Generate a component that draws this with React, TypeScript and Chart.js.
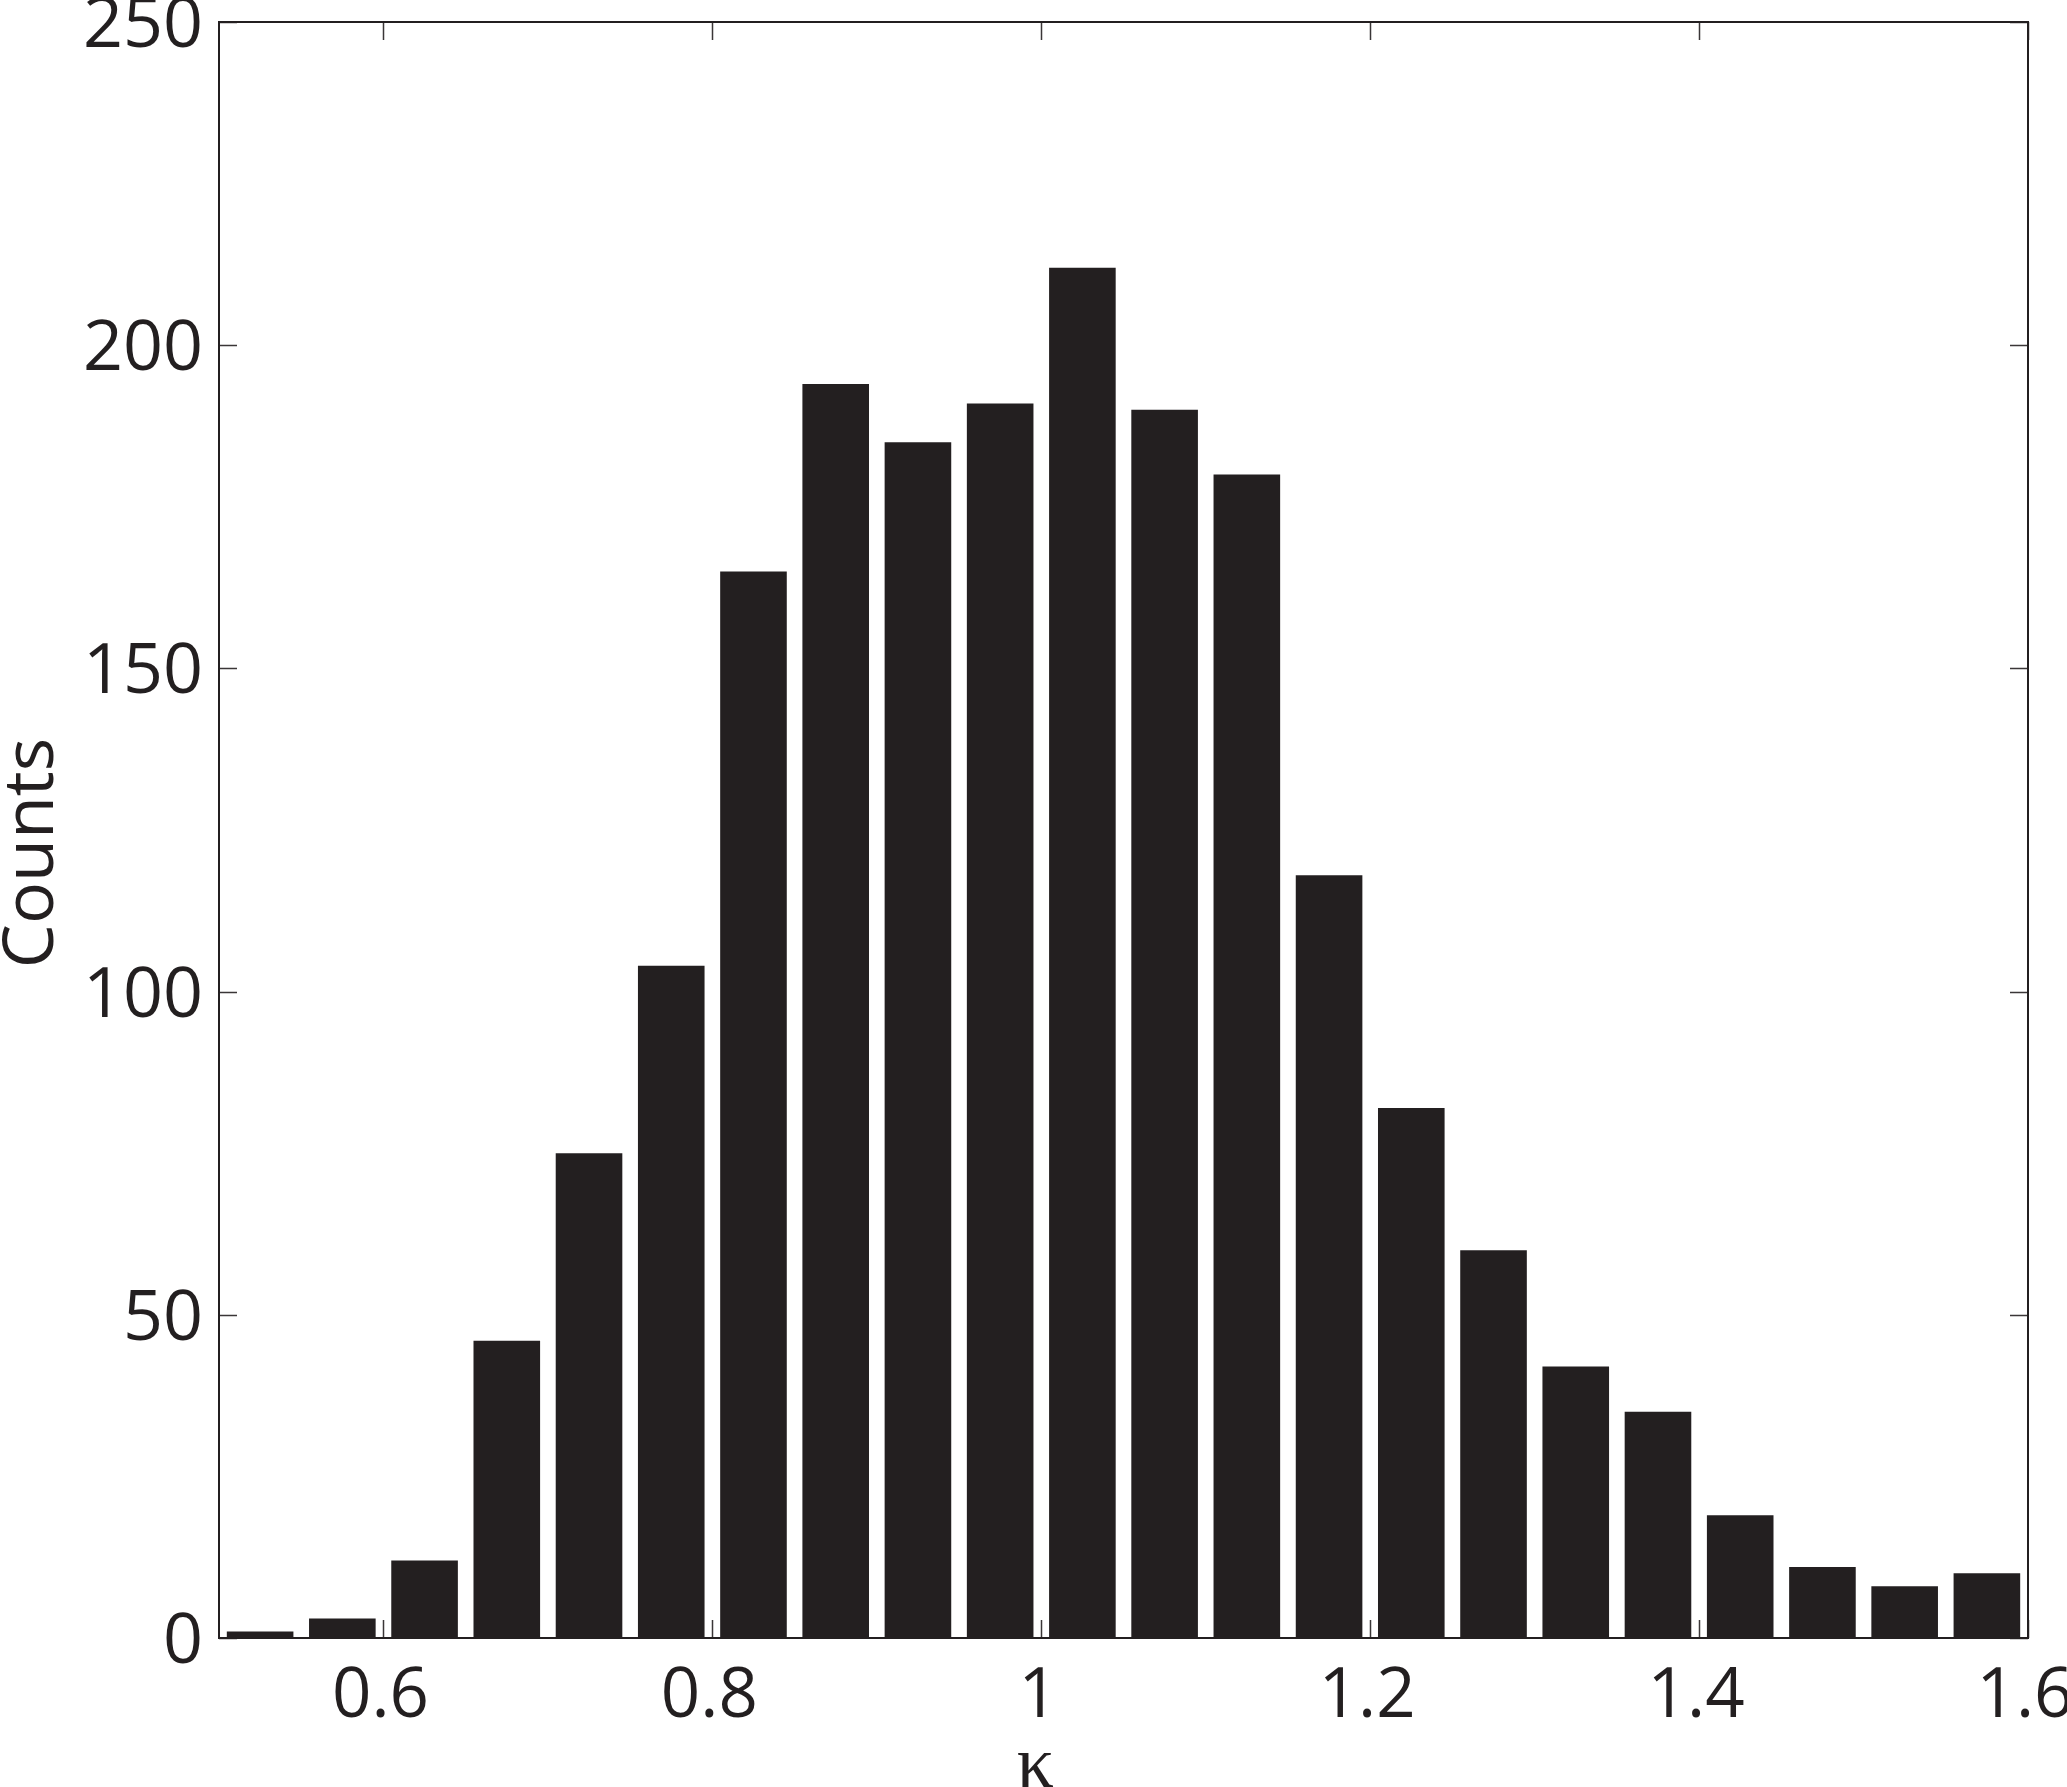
import React, { useEffect, useRef } from "react";
import { Chart, registerables } from "chart.js";

Chart.register(...registerables);

// ---- data ----
const binCenters = [
  0.525, 0.575, 0.625, 0.675, 0.725, 0.775, 0.825, 0.875, 0.925, 0.975, 1.025,
  1.075, 1.125, 1.175, 1.225, 1.275, 1.325, 1.375, 1.425, 1.475, 1.525, 1.575,
];
const counts = [
  1, 3, 12, 46, 75, 104, 165, 194, 185, 191, 212,
  190, 180, 118, 82, 60, 42, 35, 19, 11, 8, 10,
];
const xTicks = [0.6, 0.8, 1.0, 1.2, 1.4, 1.6];
const yTicks = [0, 50, 100, 150, 200, 250];
const xLabel = "κ";
const yLabel = "Counts";

const INK = "#231f20";
const FONT = "Open Sans";

const framePlugin = {
  id: "frame",
  afterDraw(chart: any) {
    const { ctx, chartArea: a, scales } = chart;
    const x = scales.x;
    const y = scales.y;
    const tl = 18;
    ctx.save();
    ctx.strokeStyle = "#3a3637";
    ctx.lineWidth = 1.5;
    ctx.beginPath();
    xTicks.forEach((v) => {
      const px = Math.round(x.getPixelForValue(v)) + 0.5;
      ctx.moveTo(px, a.bottom);
      ctx.lineTo(px, a.bottom - tl);
      ctx.moveTo(px, a.top);
      ctx.lineTo(px, a.top + tl);
    });
    yTicks.forEach((v) => {
      const py = Math.round(y.getPixelForValue(v)) + 0.5;
      ctx.moveTo(a.left, py);
      ctx.lineTo(a.left + tl, py);
      ctx.moveTo(a.right, py);
      ctx.lineTo(a.right - tl, py);
    });
    ctx.stroke();
    ctx.strokeStyle = INK;
    ctx.lineWidth = 2;
    ctx.strokeRect(a.left, a.top, a.right - a.left, a.bottom - a.top);

    // axis titles
    ctx.fillStyle = INK;
    ctx.font = `70px "${FONT}"`;
    ctx.textAlign = "center";
    ctx.textBaseline = "alphabetic";
    ctx.save();
    ctx.translate(a.left - 166, (a.top + a.bottom) / 2 + 23);
    ctx.rotate(-Math.PI / 2);
    ctx.fillText(yLabel, 0, 0);
    ctx.restore();

    ctx.font = `74px "Liberation Serif"`;
    ctx.fillText(xLabel, x.getPixelForValue(1.0) - 6, a.bottom + 149);
    ctx.restore();
  },
};

export default function App() {
  const ref = useRef<HTMLCanvasElement | null>(null);

  useEffect(() => {
    const canvas = ref.current;
    if (!canvas) return;
    const chart = new Chart(canvas, {
      type: "bar",
      data: {
        datasets: [
          {
            data: binCenters.map((c, i) => ({ x: c, y: counts[i] })),
            backgroundColor: INK,
            borderWidth: 0,
            barPercentage: 0.81,
            categoryPercentage: 1,
          } as any,
        ],
      },
      options: {
        responsive: false,
        animation: false,
        devicePixelRatio: 1,
        layout: { padding: { top: 22, right: 39, left: 0, bottom: 0 } },
        plugins: { legend: { display: false }, tooltip: { enabled: false } },
        scales: {
          x: {
            type: "linear",
            min: 0.5,
            max: 1.6,
            offset: false,
            grid: { display: false, drawTicks: false },
            border: { display: false },
            afterBuildTicks: (s: any) => {
              s.ticks = xTicks.map((v) => ({ value: v }));
            },
            ticks: {
              autoSkip: false,
              maxRotation: 0,
              minRotation: 0,
              padding: 18,
              labelOffset: -3,
              font: { family: FONT, size: 69 },
              color: INK,
              callback: (v: any) => String(parseFloat(Number(v).toFixed(1))),
            },
            afterFit: (s: any) => {
              s.height = 149;
              s.paddingLeft = 0;
              s.paddingRight = 0;
            },
          },
          y: {
            type: "linear",
            min: 0,
            max: 250,
            grid: { display: false, drawTicks: false },
            border: { display: false },
            afterBuildTicks: (s: any) => {
              s.ticks = yTicks.map((v) => ({ value: v }));
            },
            ticks: {
              padding: 16,
              labelOffset: 5,
              font: { family: FONT, size: 70 },
              color: INK,
            },
            afterFit: (s: any) => {
              s.width = 219;
              s.paddingTop = 0;
              s.paddingBottom = 0;
            },
          },
        },
      } as any,
      plugins: [framePlugin],
    });
    return () => chart.destroy();
  }, []);

  return (
    <div style={{ position: "absolute", left: 0, top: 0, width: 2067, height: 1787, overflow: "hidden", background: "#fff" }}>
      <canvas ref={ref} width={2067} height={1787} style={{ display: "block", width: 2067, height: 1787 }} />
    </div>
  );
}
